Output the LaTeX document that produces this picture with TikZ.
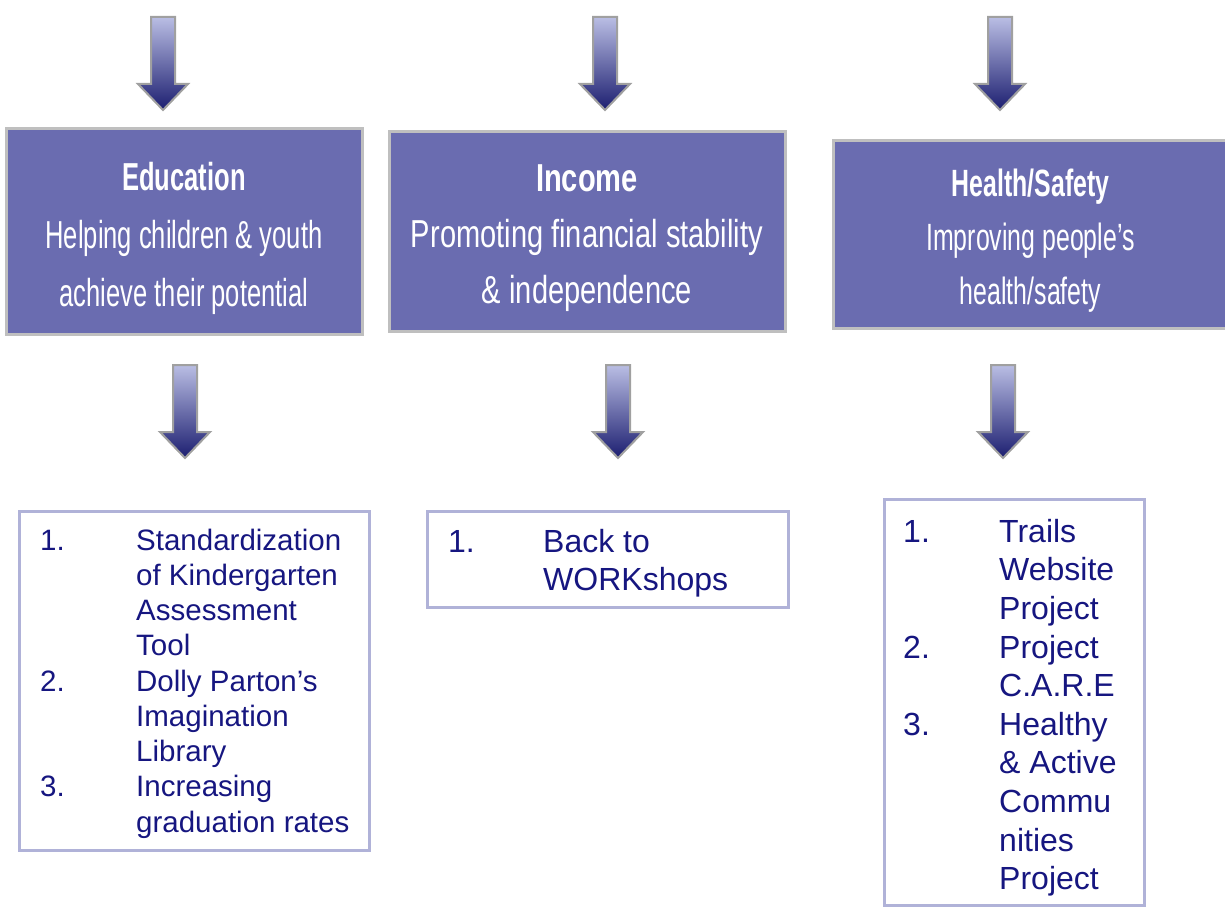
\documentclass[tikz,border=0pt]{standalone}
\usepackage{fontspec}
\setmainfont{Liberation Sans}
\newfontfamily\narrowfont[FakeStretch=0.655]{Liberation Sans}
\newfontfamily\incfont[FakeStretch=0.745]{Liberation Sans}
\usepackage{tikz}
\usetikzlibrary{positioning}
\definecolor{themefill}{RGB}{106,108,176}
\definecolor{themeline}{RGB}{191,191,191}
\definecolor{listline}{RGB}{176,178,216}
\definecolor{listtext}{RGB}{22,22,128}
\definecolor{arrtop}{RGB}{186,190,228}
\definecolor{arrmid}{RGB}{112,114,180}
\definecolor{arrbot}{RGB}{28,30,112}
\definecolor{arrline}{RGB}{160,160,160}

\begin{document}
\begin{tikzpicture}[x=1pt, y=-1pt,
  theme/.style={
    rectangle, draw=themeline, fill=themefill, line width=3pt, outer sep=0pt
  },
  themetext/.style={
    inner sep=0pt, text=white, align=center, font=\narrowfont\fontsize{39}{58}\selectfont
  },
  listbox/.style={rectangle, draw=listline, line width=3pt, outer sep=0pt, inner sep=0pt},
  itemtext/.style={inner sep=0pt, text=listtext, align=left},
  bigarr/.pic={
    \shadedraw[top color=arrtop, middle color=arrmid, bottom color=arrbot,
      draw=arrline, line width=2pt]
      (-12,0) -- (12,0) -- (12,67) -- (25,67) -- (0,93) -- (-25,67) -- (-12,67) -- cycle;
  }
]
  \useasboundingbox (0,0) rectangle (1225,909);

  % three themes
  \node[theme, minimum width=356pt, minimum height=206pt] (edu) at (184,231.5) {};
  \node[themetext] (eduTxt) at ([yshift=-6.5pt]edu.center)
    {\textbf{Education}\\Helping children \& youth\\achieve their potential};
  \node[theme, minimum width=396pt, minimum height=199pt] (inc) at (587,231.5) {};
  \node[themetext, font=\incfont\fontsize{39}{56}\selectfont] (incTxt)
    at ([yshift=-7pt]inc.center)
    {\textbf{Income}\\Promoting financial stability\\\& independence};
  \node[theme, minimum width=395pt, minimum height=187pt] (hs) at (1030.5,234.5) {};
  \node[themetext, font=\narrowfont\fontsize{38}{54}\selectfont] (hsTxt)
    at ([yshift=-6pt]hs.center)
    {\textbf{Health/Safety}\\Improving people’s\\health/safety};

  % arrows in and out
  \pic at (163,17) {bigarr};
  \pic at (605,17) {bigarr};
  \pic at (1000,17) {bigarr};
  \pic at (185,365) {bigarr};
  \pic at (618,365) {bigarr};
  \pic at (1003,365) {bigarr};

  % project lists
  \node[listbox, minimum width=350pt, minimum height=339pt] (eduL) at (194.5,681) {};
  \node[itemtext, font=\fontsize{29.5}{35.25}\selectfont,
        below right=13.8pt and 20.5pt of eduL.north west] (eduT)
    {\begin{tabular}[t]{@{}p{96pt}@{}l@{}}
      1. & Standardization\\
         & of Kindergarten\\
         & Assessment\\
         & Tool\\
      2. & Dolly Parton’s\\
         & Imagination\\
         & Library\\
      3. & Increasing\\
         & graduation rates
    \end{tabular}};

  \node[listbox, minimum width=361pt, minimum height=96pt] (incL) at (608,559.5) {};
  \node[itemtext, font=\fontsize{32}{38.5}\selectfont,
        below right=13.5pt and 20.5pt of incL.north west] (incT)
    {\begin{tabular}[t]{@{}p{95pt}@{}l@{}}
      1. & Back to\\
         & WORKshops
    \end{tabular}};

  \node[listbox, minimum width=260pt, minimum height=406pt] (hsL) at (1014.5,702.5) {};
  \node[itemtext, font=\fontsize{32}{38.6}\selectfont,
        below right=15.5pt and 18.5pt of hsL.north west] (hsT)
    {\begin{tabular}[t]{@{}p{96pt}@{}l@{}}
      1. & Trails\\
         & Website\\
         & Project\\
      2. & Project\\
         & C.A.R.E\\
      3. & Healthy\\
         & \& Active\\
         & Commu\\
         & nities\\
         & Project
    \end{tabular}};
\end{tikzpicture}
\end{document}
